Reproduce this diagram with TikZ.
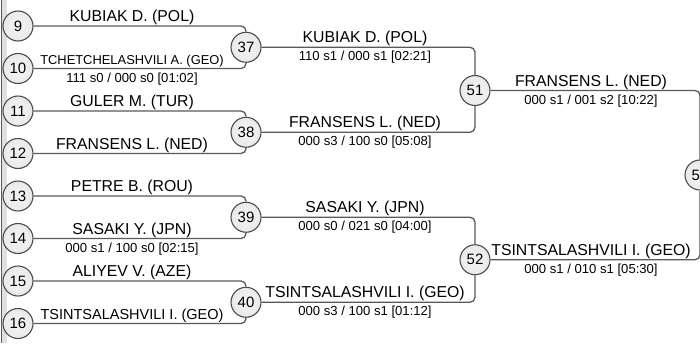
\documentclass[tikz,border=0pt]{standalone}
\usepackage{fontspec}
\setmainfont{Liberation Sans}
\usepackage{tikz}
\usetikzlibrary{positioning}
\pgfdeclareradialshading{seedball}{\pgfpoint{0bp}{0bp}}{color(0bp)=(black!4); color(28bp)=(black!9); color(42bp)=(black!18); color(50bp)=(black!34); color(70bp)=(black!34)}

\begin{document}
\begin{tikzpicture}[x=1pt,y=-1pt,
    seed/.style={circle,draw=black!70,line width=1.1pt,shading=seedball,
      minimum size=30pt,inner sep=0pt,font=\fontsize{15}{15}\selectfont},
    bout/.style={draw=black!65,line width=1.3pt,rounded corners=5pt},
    player/.style={anchor=base,inner sep=0pt,font=\fontsize{15.8}{16}\selectfont},
    score/.style={anchor=base,inner sep=0pt,font=\fontsize{13.1}{13}\selectfont}]
    \useasboundingbox (0,0) rectangle (700,343);
    \clip (0,0) rectangle (700,343);
    % left edge of the previous column
    \fill[black!12] (1,0) rectangle (7,343);
    \draw[black!65,line width=1.3pt] (1.5,0) -- (1.5,343);
    % first column
    \node[seed] (c9) at (18,26) {9};
    \node[seed] (c10) at (18,68.5) {10};
    \node[seed] (c11) at (18,111) {11};
    \node[seed] (c12) at (18,153.5) {12};
    \node[seed] (c13) at (18,196) {13};
    \node[seed] (c14) at (18,238.5) {14};
    \node[seed] (c15) at (18,281) {15};
    \node[seed] (c16) at (18,323.5) {16};
    % later rounds
    \node[seed] (c37) at (246,47.25) {37};
    \node[seed] (c38) at (246,132.25) {38};
    \node[seed] (c39) at (246,217.25) {39};
    \node[seed] (c40) at (246,302.25) {40};
    \node[seed] (c51) at (475,90.5) {51};
    \node[seed] (c52) at (475,259.75) {52};
    \node[seed] (c53) at (700,175) {53};
    % brackets
    \draw[bout] (c9) -| (c37);
    \draw[bout] (c10) -| (c37);
    \draw[bout] (c11) -| (c38);
    \draw[bout] (c12) -| (c38);
    \draw[bout] (c13) -| (c39);
    \draw[bout] (c14) -| (c39);
    \draw[bout] (c15) -| (c40);
    \draw[bout] (c16) -| (c40);
    \draw[bout] (c37) -| (c51);
    \draw[bout] (c38) -| (c51);
    \draw[bout] (c39) -| (c52);
    \draw[bout] (c40) -| (c52);
    \draw[bout] (c51) -| (c53);
    \draw[bout] (c52) -| (c53);
    % names and scores
    \node[player] (p9) at (132,21.5) {KUBIAK D. (POL)};
    \node[player,font=\fontsize{12.9}{13}\selectfont] (p10) at (132,64) {TCHETCHELASHVILI A. (GEO)};
    \node[score] (s37) at (132,82) {111 s0 / 000 s0 [01:02]};
    \node[player] (p11) at (132,106.5) {GULER M. (TUR)};
    \node[player] (p12) at (132,149) {FRANSENS L. (NED)};
    \node[player] (p13) at (132,191.5) {PETRE B. (ROU)};
    \node[player] (p14) at (132,234) {SASAKI Y. (JPN)};
    \node[score] (s39) at (132,252) {000 s1 / 100 s0 [02:15]};
    \node[player] (p15) at (132,276.5) {ALIYEV V. (AZE)};
    \node[player,font=\fontsize{14.5}{15}\selectfont] (p16) at (132,319) {TSINTSALASHVILI I. (GEO)};
    \node[player] (p37) at (365,42.75) {KUBIAK D. (POL)};
    \node[score] (s51a) at (365,60.75) {110 s1 / 000 s1 [02:21]};
    \node[player] (p38) at (365,127.75) {FRANSENS L. (NED)};
    \node[score] (s51b) at (365,145.75) {000 s3 / 100 s0 [05:08]};
    \node[player] (p39) at (365,212.75) {SASAKI Y. (JPN)};
    \node[score] (s52a) at (365,230.75) {000 s0 / 021 s0 [04:00]};
    \node[player] (p40) at (365,297.75) {TSINTSALASHVILI I. (GEO)};
    \node[score] (s52b) at (365,315.75) {000 s3 / 100 s1 [01:12]};
    \node[player] (p51) at (591,86) {FRANSENS L. (NED)};
    \node[score] (s53a) at (591,104.5) {000 s1 / 001 s2 [10:22]};
    \node[player] (p52) at (591,255.25) {TSINTSALASHVILI I. (GEO)};
    \node[score] (s53b) at (591,273.25) {000 s1 / 010 s1 [05:30]};
\end{tikzpicture}
\end{document}
